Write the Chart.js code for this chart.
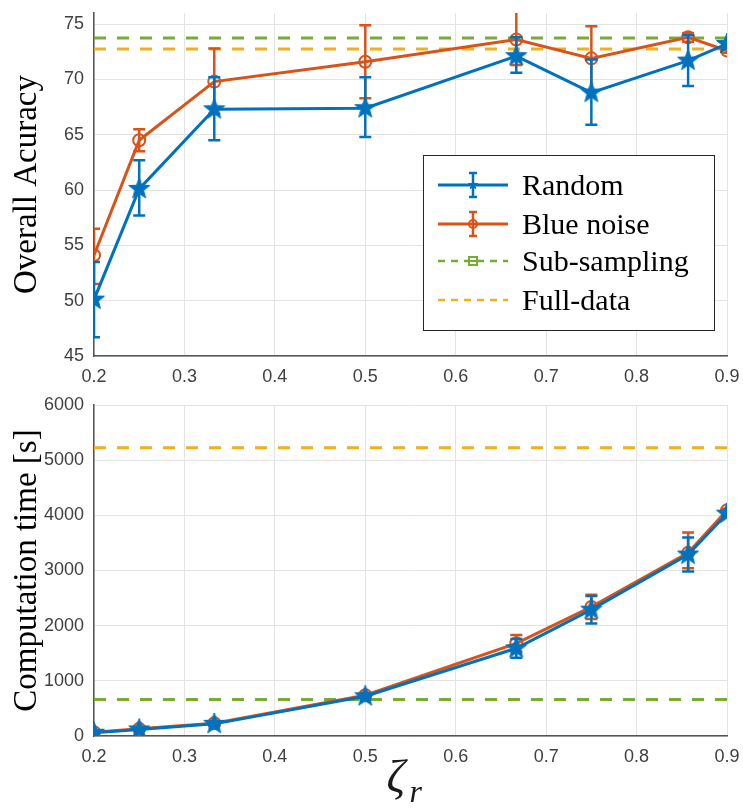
<!DOCTYPE html>
<html>
<head>
<meta charset="utf-8">
<script src="https://cdn.jsdelivr.net/npm/chart.js@4.4.1/dist/chart.umd.min.js"></script>
<style>
  body { margin: 0; background: #fff; }
  #top, #bottom { position: absolute; left: 0; width: 743px; }
  #top { top: 0; height: 390px; }
  #bottom { top: 390px; height: 421px; }
</style>
</head>
<body>
<div id="top"><canvas id="acc" width="743" height="390"></canvas></div>
<div id="bottom"><canvas id="time" width="743" height="421"></canvas></div>
<script>
// sampling ratio zeta_r
const ratios = [0.2, 0.25, 0.333, 0.5, 0.667, 0.75, 0.857, 0.9];

// overall accuracy (mean, lower / upper error bar ends)
const accRandom   = [50.1, 60.1, 67.3, 67.4, 72.1, 68.8, 71.7, 73.2];
const accRandomLo = [46.7, 57.7, 64.5, 64.8, 70.6, 65.9, 69.4, 73.0];
const accRandomHi = [53.5, 62.7, 70.2, 70.2, 73.8, 71.8, 74.0, 73.4];
const accBlue     = [54.1, 64.5, 69.8, 71.6, 73.6, 71.9, 73.8, 72.6];
const accBlueLo   = [51.5, 63.5, 66.9, 68.3, 71.3, 69.0, 73.4, 72.4];
const accBlueHi   = [56.5, 65.5, 72.8, 74.9, 76.3, 74.8, 74.2, 72.8];
const accSub  = 73.75;
const accFull = 72.75;
const accTicks = [45, 50, 55, 60, 65, 70, 75];

// computation time [s]
const timeRandom   = [60, 120, 220, 720, 1590, 2290, 3290, 4030];
const timeRandomLo = [40, 100, 190, 680, 1420, 2040, 2980, 4000];
const timeRandomHi = [80, 140, 250, 760, 1760, 2540, 3600, 4060];
const timeBlue     = [70, 130, 230, 740, 1680, 2340, 3320, 4090];
const timeBlueLo   = [50, 110, 200, 700, 1530, 2120, 3040, 4060];
const timeBlueHi   = [90, 150, 260, 780, 1830, 2560, 3690, 4120];
const timeSub  = 660;
const timeFull = 5225;
const timeTicks = [0, 1000, 2000, 3000, 4000, 5000, 6000];

const xTicks = [0.2, 0.3, 0.4, 0.5, 0.6, 0.7, 0.8, 0.9];

const BLUE = '#0072BD', ORANGE = '#D95319', YELLOW = '#EDB120', GREEN = '#77AC30';
const SERIF = '"Liberation Serif", "Times New Roman", serif';

Chart.defaults.font.family = '"Liberation Sans", Arial, sans-serif';
Chart.defaults.color = '#404040';

function starImage(r, color) {
  const c = document.createElement('canvas');
  c.width = c.height = 2 * r + 4;
  const g = c.getContext('2d');
  const cx = r + 2, cy = r + 2;
  g.beginPath();
  for (let i = 0; i < 10; i++) {
    const a = -Math.PI / 2 + i * Math.PI / 5;
    const rad = i % 2 ? r * 0.42 : r;
    g.lineTo(cx + rad * Math.cos(a), cy + rad * Math.sin(a));
  }
  g.closePath();
  g.fillStyle = color;
  g.fill();
  g.strokeStyle = color;
  g.lineWidth = 1;
  g.stroke();
  return c;
}
const star = starImage(11, BLUE);

const pts = (ys) => ratios.map((x, i) => ({ x: x, y: ys[i] }));
const flat = (v) => [{ x: 0.2, y: v }, { x: 0.9, y: v }];

function makeDatasets(rnd, rndLo, rndHi, blue, blueLo, blueHi, sub, full) {
  return [
    { label: 'Random', data: pts(rnd), errLo: rndLo, errHi: rndHi, borderColor: BLUE,
      backgroundColor: BLUE, borderWidth: 3, pointStyle: star, pointRadius: 10, order: 0 },
    { label: 'Blue noise', data: pts(blue), errLo: blueLo, errHi: blueHi, borderColor: ORANGE,
      backgroundColor: 'rgba(0,0,0,0)', borderWidth: 3, pointStyle: 'circle', pointRadius: 6,
      pointBorderWidth: 2, order: 1 },
    { label: 'Sub-sampling', data: flat(sub), borderColor: GREEN, borderWidth: 3,
      borderDash: [12, 11], pointRadius: 0, order: 2 },
    { label: 'Full-data', data: flat(full), borderColor: YELLOW, borderWidth: 3,
      borderDash: [12, 11], pointRadius: 0, order: 3 }
  ];
}

const errorBars = {
  id: 'errorBars',
  beforeDatasetDraw(chart, args) {
    const ds = chart.data.datasets[args.index];
    if (!ds.errLo) return;
    const xs = chart.scales.x, ys = chart.scales.y, a = chart.chartArea;
    const ctx = chart.ctx;
    ctx.save();
    ctx.beginPath();
    ctx.rect(a.left, a.top, a.right - a.left, a.bottom - a.top);
    ctx.clip();
    ctx.strokeStyle = ds.borderColor;
    ctx.lineWidth = 2.5;
    ds.data.forEach((p, i) => {
      const px = xs.getPixelForValue(p.x);
      const lo = ys.getPixelForValue(ds.errLo[i]);
      const hi = ys.getPixelForValue(ds.errHi[i]);
      ctx.beginPath();
      ctx.moveTo(px, lo); ctx.lineTo(px, hi);
      ctx.moveTo(px - 6, lo); ctx.lineTo(px + 6, lo);
      ctx.moveTo(px - 6, hi); ctx.lineTo(px + 6, hi);
      ctx.stroke();
    });
    ctx.restore();
  }
};

const legendBox = {
  id: 'legendBox',
  afterDraw(chart) {
    const ctx = chart.ctx;
    const bx = 423, by = 155, bw = 291, bh = 175;
    ctx.save();
    ctx.fillStyle = '#fff';
    ctx.fillRect(bx, by, bw, bh);
    ctx.strokeStyle = '#262626';
    ctx.lineWidth = 1;
    ctx.strokeRect(bx + 0.5, by + 0.5, bw, bh);
    const rows = [185, 224, 261, 300];
    const x0 = 438, x1 = 508, xm = 473;
    chart.data.datasets.forEach((ds, i) => {
      const y = rows[i];
      ctx.strokeStyle = ds.borderColor;
      ctx.lineWidth = i < 2 ? 3 : 2.5;
      ctx.setLineDash(i < 2 ? [] : [7, 6]);
      ctx.beginPath();
      ctx.moveTo(x0, y); ctx.lineTo(x1, y);
      ctx.stroke();
      ctx.setLineDash([]);
      if (i < 2) {
        ctx.lineWidth = 2.5;
        ctx.beginPath();
        ctx.moveTo(xm, y - 12); ctx.lineTo(xm, y + 12);
        ctx.moveTo(xm - 4, y - 12); ctx.lineTo(xm + 4, y - 12);
        ctx.moveTo(xm - 4, y + 12); ctx.lineTo(xm + 4, y + 12);
        ctx.stroke();
      }
      if (i === 0) {
        ctx.drawImage(star, xm - 6, y - 6, 12, 12);
      } else if (i === 1) {
        ctx.lineWidth = 2;
        ctx.beginPath();
        ctx.arc(xm, y, 4, 0, Math.PI * 2);
        ctx.stroke();
      } else if (i === 2) {
        ctx.fillStyle = '#fff';
        ctx.fillRect(xm - 5, y - 5, 10, 10);
        ctx.lineWidth = 2;
        ctx.strokeRect(xm - 4, y - 4, 8, 8);
        ctx.beginPath();
        ctx.moveTo(xm - 4, y); ctx.lineTo(xm + 4, y);
        ctx.stroke();
      }
      ctx.fillStyle = '#000';
      ctx.font = '30px ' + SERIF;
      ctx.textBaseline = 'alphabetic';
      ctx.fillText(ds.label, 522, y + 10);
    });
    ctx.restore();
  }
};

const zetaTitle = {
  id: 'zetaTitle',
  afterDraw(chart) {
    const ctx = chart.ctx;
    const cx = (chart.chartArea.left + chart.chartArea.right) / 2;
    ctx.save();
    ctx.fillStyle = '#1a1a1a';
    ctx.font = 'italic 46px ' + SERIF;
    ctx.fillText('\u03B6', cx - 24, 402);
    ctx.font = 'italic 32px ' + SERIF;
    ctx.fillText('r', cx - 1, 412);
    ctx.restore();
  }
};

function noPad(s) {
  s.paddingTop = 0; s.paddingBottom = 0; s.paddingLeft = 0; s.paddingRight = 0;
}

function xScale(height) {
  return {
    type: 'linear', min: 0.2, max: 0.9,
    afterFit: (s) => { s.height = height; noPad(s); },
    afterBuildTicks: (s) => { s.ticks = xTicks.map(v => ({ value: v })); },
    grid: { color: '#e3e3e3', drawTicks: false },
    border: { color: '#555', width: 1.5 },
    ticks: { padding: 10, font: { size: 18 }, callback: (v) => v.toFixed(1) }
  };
}

function yScale(min, max, tickVals, title) {
  return {
    min: min, max: max,
    afterFit: (s) => { s.width = 94; noPad(s); },
    afterBuildTicks: (s) => { s.ticks = tickVals.map(v => ({ value: v })); },
    grid: { color: '#e3e3e3', drawTicks: false },
    border: { color: '#555', width: 1.5 },
    ticks: { padding: 10, font: { size: 18 }, callback: (v) => String(v) },
    title: { display: true, text: title, color: '#000', padding: { top: 8, bottom: 0 },
      font: { family: SERIF, size: 33 } }
  };
}

const common = {
  responsive: false,
  animation: false,
  devicePixelRatio: 1,
  plugins: { legend: { display: false }, tooltip: { enabled: false } }
};

new Chart(document.getElementById('acc'), {
  type: 'line',
  data: { datasets: makeDatasets(accRandom, accRandomLo, accRandomHi, accBlue, accBlueLo, accBlueHi, accSub, accFull) },
  options: Object.assign({}, common, {
    layout: { padding: { top: 8, right: 16, left: 0, bottom: 0 } },
    scales: { x: xScale(34), y: yScale(45, 76, accTicks, 'Overall Acuracy') }
  }),
  plugins: [errorBars, legendBox]
});

new Chart(document.getElementById('time'), {
  type: 'line',
  data: { datasets: makeDatasets(timeRandom, timeRandomLo, timeRandomHi, timeBlue, timeBlueLo, timeBlueHi, timeSub, timeFull) },
  options: Object.assign({}, common, {
    layout: { padding: { top: 15, right: 16, left: 0, bottom: 0 } },
    scales: { x: xScale(75), y: yScale(0, 6000, timeTicks, 'Computation time [s]') }
  }),
  plugins: [errorBars, zetaTitle]
});
</script>
</body>
</html>
